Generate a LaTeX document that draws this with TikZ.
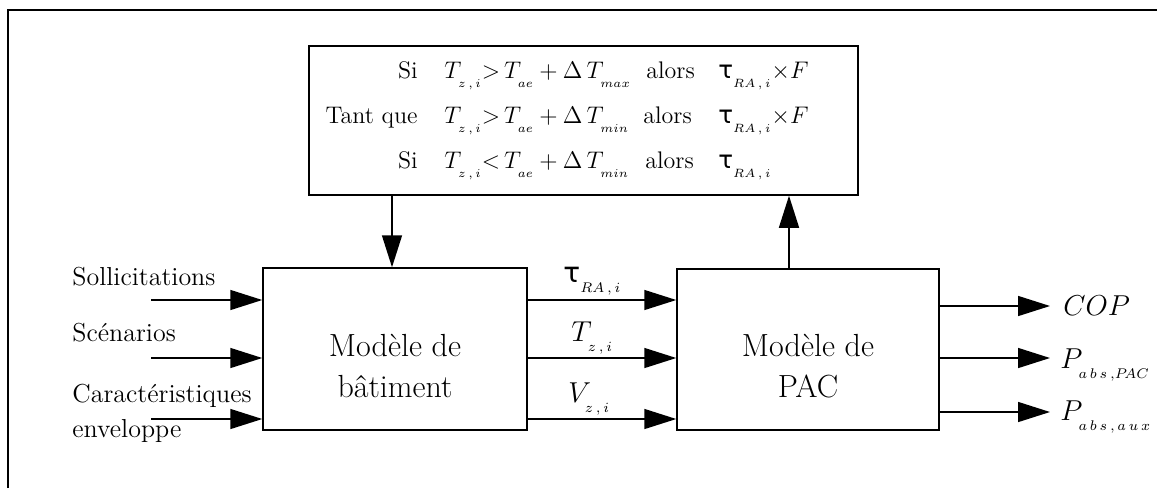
\documentclass[tikz,border=0pt]{standalone}
\usepackage{fontspec}
\usetikzlibrary{arrows.meta}
\newfontfamily\grk{DejaVu Sans}
\newcommand\lsb[1]{_{\raisebox{-0.55ex}{$\scriptscriptstyle #1$}}}
\newcommand\tauu{\mbox{\grk τ}}
\begin{document}
\begin{tikzpicture}[x=0.5pt,y=-0.5pt,
  box/.style={draw,line width=0.75pt,inner sep=0pt},
  arr/.style={line width=0.75pt,-{Triangle[length=16pt,width=10pt]}},
  lab/.style={inner sep=0pt,font=\fontsize{13}{15}\selectfont},
  mth/.style={inner sep=0pt,font=\fontsize{14}{16}\selectfont},
  rul/.style={inner sep=0pt,font=\fontsize{12}{14}\selectfont},
  rmth/.style={inner sep=0pt,font=\fontsize{12.3}{14}\selectfont},
  btxt/.style={inner sep=0pt,align=center,font=\fontsize{16}{20.5}\selectfont}]
\useasboundingbox (0,0) rectangle (1157,488);
\draw[line width=1pt] (7.5,488) -- (7.5,9.5) -- (1157,9.5);
% boxes
\node[box,minimum width=274.5pt,minimum height=74.5pt] (rules) at (583.5,120.5) {};
\node[box,minimum width=132pt,minimum height=81pt] (bld) at (395,349) {};
\node[box,minimum width=131pt,minimum height=80.5pt] (pac) at (808,349.5) {};
\node[btxt,anchor=base] (bldt) at (395,397) {Modèle de\\bâtiment};
\node[btxt,anchor=base] (pact) at (808,397) {Modèle de\\PAC};
% rules text
\node[rul,anchor=base east] (r1a) at (418,78) {Si};
\node[rul,anchor=base east] (r2a) at (418,123) {Tant que};
\node[rul,anchor=base east] (r3a) at (418,168) {Si};
\node[rmth,anchor=base west] (r1b) at (444,78) {$T\lsb{z\,,\,i}{>}\,T\lsb{ae}+\Delta\,T\lsb{max}$};
\node[rmth,anchor=base west] (r2b) at (444,123) {$T\lsb{z\,,\,i}{>}\,T\lsb{ae}+\Delta\,T\lsb{min}$};
\node[rmth,anchor=base west] (r3b) at (444,168) {$T\lsb{z\,,\,i}{<}\,T\lsb{ae}+\Delta\,T\lsb{min}$};
\node[rul,anchor=base west] (r1c) at (646,78) {alors};
\node[rul,anchor=base west] (r2c) at (643,123) {alors};
\node[rul,anchor=base west] (r3c) at (645,168) {alors};
\node[rmth,anchor=base west] (r1d) at (718,78) {$\tauu\lsb{RA\,,\,i}{\times}F$};
\node[rmth,anchor=base west] (r2d) at (718,123) {$\tauu\lsb{RA\,,\,i}{\times}F$};
\node[rmth,anchor=base west] (r3d) at (718,168) {$\tauu\lsb{RA\,,\,i}$};
% vertical arrows
\coordinate (dn) at (392,0);
\coordinate (up) at (789,0);
\draw[arr] (rules.south -| dn) -- (bld.north -| dn);
\draw[arr] (pac.north -| up) -- (rules.south -| up);
% inputs
\coordinate (i1) at (151,300);
\coordinate (i2) at (151,358);
\coordinate (i3) at (151,419);
\draw[arr] (i1) -- (i1 -| bld.west);
\draw[arr] (i2) -- (i2 -| bld.west);
\draw[arr] (i3) -- (i3 -| bld.west);
\node[lab,anchor=base west] (l1) at (72,285) {Sollicitations};
\node[lab,anchor=base west] (l2) at (72,341) {Scénarios};
\node[lab,anchor=base west] (l3) at (72,402) {Caractéristiques};
\node[lab,anchor=base west] (l4) at (72,437) {enveloppe};
% middle
\coordinate (m1) at (0,300);
\coordinate (m2) at (0,358);
\coordinate (m3) at (0,419);
\draw[arr] (bld.east |- m1) -- (pac.west |- m1);
\draw[arr] (bld.east |- m2) -- (pac.west |- m2);
\draw[arr] (bld.east |- m3) -- (pac.west |- m3);
\node[mth,anchor=base west] (t1) at (563,282) {$\tauu\lsb{RA\,,\,i}$};
\node[mth,anchor=base west] (t2) at (571,341) {$T\lsb{z\,,\,i}$};
\node[mth,anchor=base west] (t3) at (568,402) {$V\lsb{z\,,\,i}$};
% outputs
\coordinate (o1) at (1050,306);
\coordinate (o2) at (1050,358);
\coordinate (o3) at (1050,412);
\draw[arr] (pac.east |- o1) -- (o1);
\draw[arr] (pac.east |- o2) -- (o2);
\draw[arr] (pac.east |- o3) -- (o3);
\node[mth,anchor=base west] (p1) at (1063,315) {$COP$};
\node[mth,anchor=base west] (p2) at (1060,368) {$P\lsb{a\,b\,s\,,P\!AC}$};
\node[mth,anchor=base west] (p3) at (1060,420) {$P\lsb{a\,b\,s\,,\,a\,u\,x}$};
\end{tikzpicture}
\end{document}
